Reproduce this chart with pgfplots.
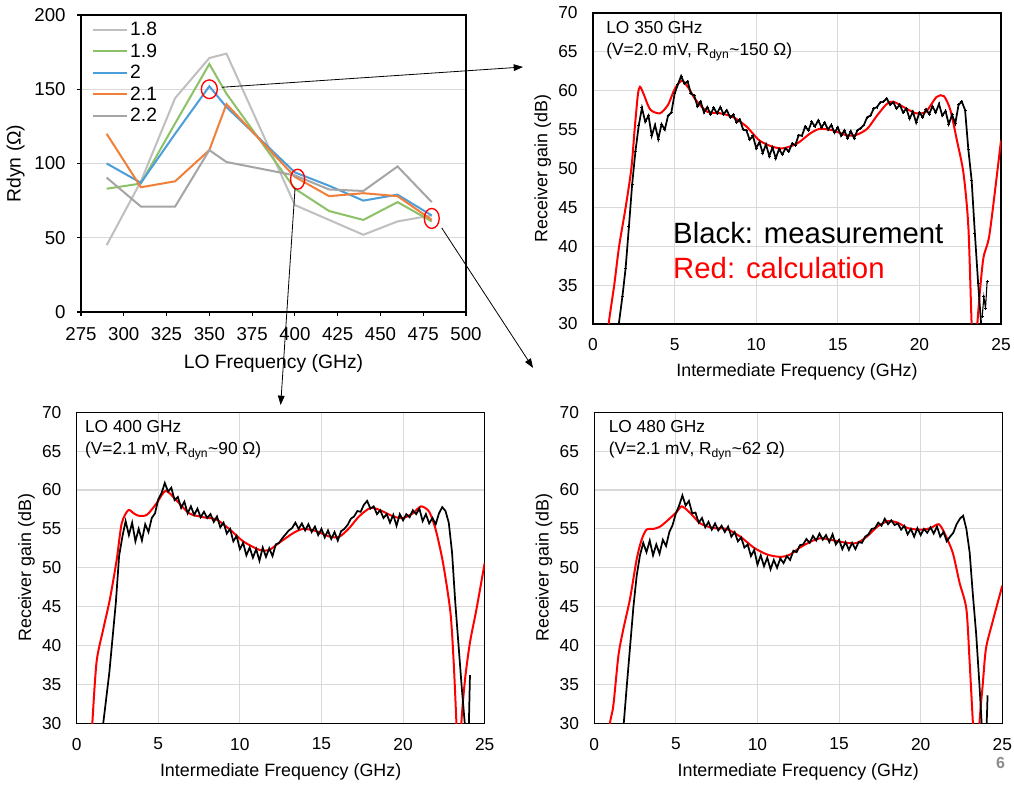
\documentclass[border=0pt]{standalone}
\usepackage{fontspec}
\setmainfont{Liberation Sans}
\usepackage{pgfplots}
\pgfplotsset{compat=1.18}
\usetikzlibrary{arrows.meta}
\definecolor{gridgray}{HTML}{D9D9D9}
\definecolor{cA}{HTML}{BFBFBF}
\definecolor{cB}{HTML}{8CC168}
\definecolor{cC}{HTML}{4C9ED9}
\definecolor{cD}{HTML}{F07F3A}
\definecolor{cE}{HTML}{A5A5A5}
\definecolor{pgnum}{HTML}{8C8C8C}
\pgfplotsset{
  gainax/.style={
    scale only axis, width=306pt, height=233.25pt,
    xmin=0, xmax=25, ymin=30, ymax=70,
    xtick={0,5,...,25}, ytick={30,35,...,70},
    grid=major, grid style={draw=gridgray, line width=0.8pt},
    major tick length=0pt, axis line style={line width=0.9pt},
    /pgf/number format/assume math mode=true,
    tick label style={font=\fontsize{13}{13}\selectfont},
    label style={font=\fontsize{13.4}{14}\selectfont},
    xlabel={Intermediate Frequency (GHz)}, ylabel={Receiver gain (dB)},
    xlabel style={at={(axis description cs:0.5,-0.155)}, anchor=center},
    ylabel style={at={(axis description cs:-0.123,0.5)}, anchor=center},
    yticklabel style={xshift=-8pt}, xticklabel style={yshift=-7.5pt},
  },
  redc/.style={red, line width=1.5pt, smooth, tension=0.45},
  blkc/.style={black, line width=1.3pt},
}
\begin{document}
\begin{tikzpicture}
\path[use as bounding box, fill=white] (0,0) rectangle (760.5pt,588.75pt);

% ---------------- Top-left: Rdyn vs LO frequency
\begin{axis}[
  at={(60.75pt,354.75pt)}, anchor=south west,
  scale only axis, width=288.75pt, height=222.75pt,
  xmin=275, xmax=500, ymin=0, ymax=200,
  xtick={275,300,...,500}, ytick={0,50,...,200},
  ymajorgrids, grid style={draw=gridgray, line width=0.8pt},
  tick align=outside, tick pos=left, major tick length=3pt,
  tick style={black, line width=0.8pt},
  axis line style={line width=0.9pt},
  /pgf/number format/assume math mode=true,
  tick label style={font=\fontsize{14}{14}\selectfont},
  yticklabel style={xshift=-5pt}, xticklabel style={yshift=-5pt},
  label style={font=\fontsize{14.5}{15}\selectfont},
  xlabel={LO Frequency (GHz)}, ylabel={Rdyn (Ω)},
  xlabel style={at={(axis description cs:0.5,-0.172)}, anchor=center},
  ylabel style={at={(axis description cs:-0.17,0.5)}, anchor=center},
  clip=false,
  legend style={draw=none, fill=none, at={(0.025,0.99)}, anchor=north west,
    font=\fontsize{14.5}{15}\selectfont, row sep=0.5pt, inner sep=1pt},
  legend cell align=left,
  legend image code/.code={\draw[#1] (0pt,0pt) -- (25pt,0pt);},
]
\addplot[cA, line width=1.5pt] coordinates {(290,45)(310,88)(330,144)(350,171)(360,174)(400,72)(420,62)(440,52)(460,61)(480,65)};
\addlegendentry{1.8}
\addplot[cB, line width=1.5pt] coordinates {(290,83)(310,86.5)(330,127)(350,167)(360,147)(400,83)(420,68)(440,62)(460,74)(480,61)};
\addlegendentry{1.9}
\addplot[cC, line width=1.5pt] coordinates {(290,100)(310,87)(330,120)(350,152)(360,138)(400,94)(420,85)(440,75)(460,79)(480,65)};
\addlegendentry{2}
\addplot[cD, line width=1.5pt] coordinates {(290,120)(310,84)(330,88)(350,109)(360,140)(400,91)(420,78)(440,80)(460,78)(480,62)};
\addlegendentry{2.1}
\addplot[cE, line width=1.5pt] coordinates {(290,90.5)(310,71)(330,71)(350,109)(360,101)(400,92)(420,82.5)(440,81.5)(460,98)(480,74)};
\addlegendentry{2.2}
\draw[red, line width=1pt] (axis cs:350,150) ellipse [x radius=6pt, y radius=7pt];
\draw[red, line width=1pt] (axis cs:401.6,89.4) ellipse [x radius=5.3pt, y radius=7.5pt];
\draw[red, line width=1pt] (axis cs:480,63) ellipse [x radius=5.6pt, y radius=7.5pt];
\end{axis}

% ---------------- Top-right: LO 350 GHz
\begin{axis}[gainax, at={(444.75pt,345.75pt)}, anchor=south west]
\addplot[redc] coordinates {(0.9,27)(0.96,30)(1.3,35)(1.6,40)(2.0,45)(2.35,50)(2.55,55)(2.75,59.5)(2.88,60.5)(3.1,59.6)(3.5,57.6)(4.1,57.1)(4.6,58.2)(5.0,60.2)(5.45,61.3)(5.9,60.2)(6.3,58.8)(7.0,57.3)(7.8,57.1)(8.6,56.6)(9.4,55.4)(10.2,53.6)(11.0,52.8)(11.65,52.6)(12.5,53.2)(13.3,54.5)(13.9,55.1)(14.7,54.9)(15.5,54.3)(16.1,54.3)(16.8,55.1)(17.4,56.8)(18.0,58.3)(18.4,58.6)(19.2,57.7)(19.8,57.1)(20.4,57.3)(21.05,59.2)(21.5,59.3)(21.9,57.5)(22.3,53.6)(22.7,49.4)(23.0,42.5)(23.2,30)(23.38,22)(23.55,30)(23.9,38.2)(24.3,41.6)(25,53.6)};
\addplot[blkc, mark=+, mark size=1.1pt, mark options={line width=0.6pt}] coordinates {(1.55,29.5)(1.8,33.5)(2.0,37.2)(2.2,42.5)(2.4,48.0)(2.6,52.2)(2.8,55.5)(3.0,57.8)(3.2,56.0)(3.4,56.8)(3.6,54.2)(3.8,55.6)(4.0,53.8)(4.2,55.7)(4.4,55.0)(4.6,56.8)(4.8,57.2)(5.0,59.6)(5.2,60.8)(5.4,61.9)(5.6,60.9)(5.8,61.2)(6.0,59.6)(6.2,59.4)(6.4,58.0)(6.6,58.6)(6.8,57.2)(7.0,57.9)(7.2,57.0)(7.4,57.8)(7.6,57.1)(7.8,57.9)(8.0,57.0)(8.2,57.5)(8.4,56.6)(8.6,56.9)(8.8,55.9)(9.0,56.3)(9.2,55.0)(9.4,54.9)(9.6,53.7)(9.8,54.2)(10.0,52.6)(10.2,53.4)(10.4,52.0)(10.6,53.1)(10.8,51.6)(11.0,52.7)(11.2,51.3)(11.4,52.5)(11.6,51.8)(11.8,52.6)(12.0,52.2)(12.2,53.2)(12.4,53.0)(12.6,54.3)(12.8,54.2)(13.0,55.4)(13.2,54.9)(13.4,56.0)(13.6,55.4)(13.8,56.2)(14.0,55.3)(14.2,55.9)(14.4,55.0)(14.6,55.6)(14.8,54.6)(15.0,55.3)(15.2,54.2)(15.4,54.9)(15.6,53.9)(15.8,54.8)(16.0,53.9)(16.2,54.9)(16.4,55.2)(16.6,55.6)(16.8,56.6)(17.0,56.8)(17.2,57.7)(17.4,57.9)(17.6,58.5)(17.8,58.6)(18.0,59.0)(18.2,58.2)(18.4,58.5)(18.6,57.7)(18.8,58.2)(19.0,57.2)(19.2,57.7)(19.4,56.4)(19.6,57.3)(19.8,55.9)(20.0,57.2)(20.2,56.6)(20.4,57.6)(20.6,57.0)(20.8,58.0)(21.0,57.2)(21.2,58.3)(21.4,56.8)(21.6,57.4)(21.8,55.7)(22.0,56.9)(22.2,55.8)(22.4,58.2)(22.6,58.6)(22.8,57.5)(23.0,52.4)(23.2,48.5)(23.4,41.6)(23.6,35.2)(23.8,29.5)};
\addplot[black, line width=0.8pt, mark=+, mark size=1.1pt] coordinates {(23.85,31)(23.95,33.5)(24.05,32)(24.15,35.5)};
\node[anchor=north west, inner sep=0pt, align=left, font=\fontsize{13}{16.5}\selectfont] at (rel axis cs:0.032,0.975) {LO 350 GHz\\(V=2.0 mV, R\textsubscript{dyn}\textasciitilde150 Ω)};
\node[anchor=base west, inner sep=0pt, font=\fontsize{22}{22}\selectfont] at (axis cs:4.9,40.4) {Black: measurement};
\node[anchor=base west, inner sep=0pt, font=\fontsize{22}{22}\selectfont, text=red] at (axis cs:4.9,35.9) {Red: calculation};
\end{axis}

% ---------------- Bottom-left: LO 400 GHz
\begin{axis}[gainax, at={(57.5pt,46.3pt)}, anchor=south west]
\addplot[redc] coordinates {(0.9,27)(0.96,30)(1.22,37.9)(1.63,42.1)(2.04,46)(2.45,51)(2.76,55.7)(3.16,57.4)(3.5,57)(3.78,56.7)(4.3,56.8)(4.9,58.3)(5.45,59.9)(6.1,58.7)(6.9,57)(7.76,56.5)(8.57,56.2)(9.4,54.9)(10.2,53.4)(11.2,52.3)(11.8,52.3)(12.4,53.2)(13.3,54.5)(13.9,55)(14.7,54.7)(15.5,54)(16.1,54)(16.7,55.1)(17.3,56.6)(18,57.7)(18.6,57.4)(19.4,56.6)(20,56.4)(20.6,57)(21.1,57.9)(21.6,57.2)(22.0,54.9)(22.45,50.6)(22.9,44.3)(23.1,37.9)(23.27,30)(23.42,22)(23.57,30)(23.8,35.7)(24.1,40.4)(24.5,44.7)(25,50.6)};
\addplot[blkc] coordinates {(1.6,29.5)(1.8,33.0)(2.0,36.5)(2.2,41.0)(2.4,45.5)(2.6,51.5)(2.8,54.0)(3.0,56.0)(3.2,54.2)(3.4,55.8)(3.6,53.4)(3.8,55.0)(4.0,53.5)(4.2,55.6)(4.4,54.6)(4.6,56.4)(4.8,57.0)(5.0,58.8)(5.2,59.6)(5.4,60.9)(5.6,59.8)(5.8,60.3)(6.0,58.7)(6.2,59.1)(6.4,57.7)(6.6,58.5)(6.8,57.0)(7.0,57.9)(7.2,56.8)(7.4,57.6)(7.6,56.5)(7.8,57.2)(8.0,56.4)(8.2,56.9)(8.4,55.9)(8.6,56.6)(8.8,55.2)(9.0,55.8)(9.2,54.4)(9.4,55.0)(9.6,53.4)(9.8,54.1)(10.0,52.4)(10.2,53.2)(10.4,51.6)(10.6,52.6)(10.8,51.3)(11.0,52.4)(11.2,50.9)(11.4,52.6)(11.6,51.4)(11.8,52.5)(12.0,51.5)(12.2,53.0)(12.4,53.2)(12.6,53.8)(12.8,54.3)(13.0,54.8)(13.2,55.1)(13.4,55.8)(13.6,55.0)(13.8,55.7)(14.0,54.8)(14.2,55.6)(14.4,54.6)(14.6,55.3)(14.8,54.2)(15.0,55.0)(15.2,53.9)(15.4,54.8)(15.6,53.7)(15.8,54.6)(16.0,53.5)(16.2,54.7)(16.4,55.0)(16.6,55.5)(16.8,56.3)(17.0,56.6)(17.2,57.3)(17.4,57.2)(17.6,58.1)(17.8,58.6)(18.0,57.6)(18.2,57.9)(18.4,56.9)(18.6,57.4)(18.8,56.4)(19.0,56.9)(19.2,55.8)(19.4,56.8)(19.6,55.4)(19.8,56.9)(20.0,56.1)(20.2,56.9)(20.4,56.5)(20.6,57.4)(20.8,56.9)(21.0,57.6)(21.2,56.0)(21.4,56.9)(21.6,55.7)(21.8,56.4)(22.0,55.6)(22.2,57.0)(22.4,57.8)(22.6,57.3)(22.8,55.8)(23.0,52.0)(23.2,45.5)(23.4,40.0)(23.6,34.5)(23.8,29.5)(24.0,27)(24.1,36.2)};
\node[anchor=north west, inner sep=0pt, align=left, font=\fontsize{13}{16.5}\selectfont] at (rel axis cs:0.02,0.975) {LO 400 GHz\\(V=2.1 mV, R\textsubscript{dyn}\textasciitilde90 Ω)};
\end{axis}

% ---------------- Bottom-right: LO 480 GHz
\begin{axis}[gainax, at={(445.7pt,46.3pt)}, anchor=south west]
\addplot[redc] coordinates {(0.9,27)(0.96,30)(1.17,32.3)(1.48,38.7)(1.78,42.1)(2.19,46)(2.6,51.1)(2.9,53.6)(3.2,54.9)(3.63,55)(4.04,55.3)(4.55,56.2)(5.06,57.2)(5.37,57.9)(5.9,57)(6.5,55.7)(7.3,55.1)(8.1,55)(8.95,54)(9.77,52.6)(10.6,51.7)(11.4,51.4)(12,51.7)(12.6,52.6)(13.3,53.4)(13.9,53.8)(14.7,53.5)(15.5,53.2)(16.1,53.2)(16.7,54)(17.35,55.3)(18,56)(18.6,55.8)(19.2,55.1)(20,54.9)(20.6,55.1)(21.1,55.6)(21.45,54.5)(21.97,51.9)(22.38,48.1)(22.8,44.7)(23.0,37.9)(23.2,30)(23.4,22)(23.6,30)(23.8,34.9)(24.0,39.6)(24.4,43)(25,47.7)};
\addplot[blkc] coordinates {(1.8,29.8)(2.0,35.0)(2.2,40.0)(2.4,45.0)(2.6,49.0)(2.8,51.6)(3.0,53.2)(3.2,52.0)(3.4,53.5)(3.6,51.6)(3.8,53.0)(4.0,51.8)(4.2,53.6)(4.4,52.8)(4.6,54.6)(4.8,55.5)(5.0,57.0)(5.2,58.0)(5.4,59.3)(5.6,58.0)(5.8,58.6)(6.0,57.0)(6.2,57.1)(6.4,55.8)(6.6,56.4)(6.8,55.2)(7.0,55.9)(7.2,54.9)(7.4,55.7)(7.6,54.8)(7.8,55.4)(8.0,54.6)(8.2,55.3)(8.4,54.0)(8.6,54.6)(8.8,53.4)(9.0,53.9)(9.2,52.6)(9.4,53.0)(9.6,51.5)(9.8,52.3)(10.0,50.4)(10.2,51.6)(10.4,50.2)(10.6,51.3)(10.8,49.8)(11.0,51.0)(11.2,50.0)(11.4,51.2)(11.6,50.6)(11.8,51.5)(12.0,51.0)(12.2,52.2)(12.4,52.0)(12.6,52.9)(12.8,53.0)(13.0,53.7)(13.2,53.2)(13.4,54.1)(13.6,53.5)(13.8,54.4)(14.0,53.6)(14.2,54.2)(14.4,53.3)(14.6,54.3)(14.8,53.0)(15.0,53.6)(15.2,52.4)(15.4,53.3)(15.6,52.3)(15.8,53.2)(16.0,52.4)(16.2,53.3)(16.4,53.2)(16.6,54.0)(16.8,54.3)(17.0,55.0)(17.2,55.1)(17.4,55.8)(17.6,55.4)(17.8,56.3)(18.0,55.6)(18.2,56.1)(18.4,55.5)(18.6,55.7)(18.8,54.9)(19.0,55.4)(19.2,54.3)(19.4,55.0)(19.6,54.0)(19.8,55.1)(20.0,54.2)(20.2,55.0)(20.4,54.5)(20.6,55.2)(20.8,54.4)(21.0,55.3)(21.2,54.0)(21.4,54.6)(21.6,53.4)(21.8,54.0)(22.0,54.5)(22.2,55.6)(22.4,56.3)(22.6,56.7)(22.8,55.0)(23.0,52.0)(23.2,46.5)(23.4,41.5)(23.6,35.0)(23.75,29.5)(24.0,27)(24.1,33.6)};
\node[anchor=north west, inner sep=0pt, align=left, font=\fontsize{13}{16.5}\selectfont] at (rel axis cs:0.035,0.975) {LO 480 GHz\\(V=2.1 mV, R\textsubscript{dyn}\textasciitilde62 Ω)};
\end{axis}

% ---------------- arrows and page number
\draw[line width=0.6pt, -{Triangle[length=7pt,width=5pt]}] (166.3pt,523.3pt) -- (392.3pt,538.5pt);
\draw[line width=0.6pt, -{Triangle[length=7pt,width=5pt]}] (221.3pt,447.8pt) -- (210.5pt,285pt);
\draw[line width=0.6pt, -{Triangle[length=7pt,width=5pt]}] (331.3pt,417.8pt) -- (399.8pt,312.8pt);
\node[text=pgnum, font=\fontsize{12}{12}\selectfont\bfseries, anchor=center] at (750.5pt,16.5pt) {6};
\end{tikzpicture}
\end{document}
